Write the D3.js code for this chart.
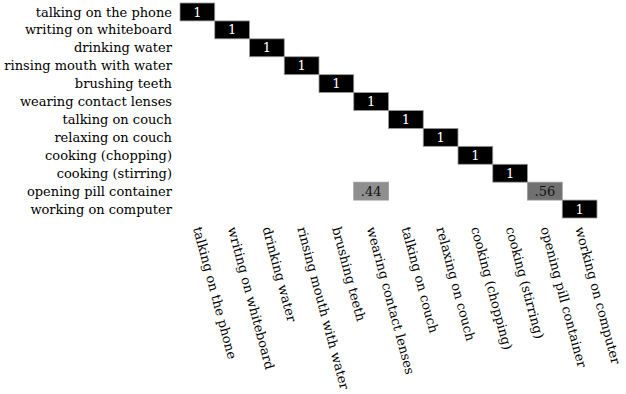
<!DOCTYPE html>
<html>
<head>
<meta charset="utf-8">
<script src="https://cdn.jsdelivr.net/npm/d3@7"></script>
<style>
  body { margin: 0; background: #fff; }
  text { font-family: "DejaVu Serif", "Liberation Serif", serif; }
</style>
</head>
<body>
<svg id="cm"></svg>
<script>
// activity names, same order for rows (true) and columns (predicted)
const labels = [
    "talking on the phone", "writing on whiteboard", "drinking water",
    "rinsing mouth with water", "brushing teeth", "wearing contact lenses",
    "talking on couch", "relaxing on couch", "cooking (chopping)",
    "cooking (stirring)", "opening pill container", "working on computer"
]

// confusion matrix, rows = actual, cols = predicted
const matrix = [
    [1, 0, 0, 0, 0, 0, 0, 0, 0, 0, 0, 0],
    [0, 1, 0, 0, 0, 0, 0, 0, 0, 0, 0, 0],
    [0, 0, 1, 0, 0, 0, 0, 0, 0, 0, 0, 0],
    [0, 0, 0, 1, 0, 0, 0, 0, 0, 0, 0, 0],
    [0, 0, 0, 0, 1, 0, 0, 0, 0, 0, 0, 0],
    [0, 0, 0, 0, 0, 1, 0, 0, 0, 0, 0, 0],
    [0, 0, 0, 0, 0, 0, 1, 0, 0, 0, 0, 0],
    [0, 0, 0, 0, 0, 0, 0, 1, 0, 0, 0, 0],
    [0, 0, 0, 0, 0, 0, 0, 0, 1, 0, 0, 0],
    [0, 0, 0, 0, 0, 0, 0, 0, 0, 1, 0, 0],
    [0, 0, 0, 0, 0, 0.44, 0, 0, 0, 0, 0.56, 0],
    [0, 0, 0, 0, 0, 0, 0, 0, 0, 0, 0, 1]
]

let svgWidth = 626, svgHeight = 394
let grid = {left: 180, right: 597, top: 3, bottom: 218}
let fontSize = 13

let svg = d3.select("#cm")
    .attr("width", svgWidth)
    .attr("height", svgHeight)

let xScale = d3.scaleBand().domain(d3.range(labels.length)).range([grid.left, grid.right])
let yScale = d3.scaleBand().domain(d3.range(labels.length)).range([grid.top, grid.bottom])
let shade = d3.scaleLinear().domain([0, 1]).range(["#ffffff", "#000000"])

// flatten to non-zero cells only
let cells = []
matrix.forEach((row, i) => row.forEach((v, j) => { if (v > 0) cells.push({i, j, v}) }))

let fmt = v => v === 1 ? "1" : d3.format(".2f")(v).replace(/^0/, "")

let cell = svg.selectAll("g.cell")
    .data(cells)
    .enter()
    .append("g")
    .attr("class", "cell")

cell.append("rect")
    .attr("x", d => xScale(d.j))
    .attr("y", d => yScale(d.i))
    .attr("width", xScale.bandwidth())
    .attr("height", yScale.bandwidth())
    .attr("fill", d => shade(d.v))
    .attr("stroke", "#9a9a9a")
    .attr("stroke-width", 0.8)

cell.append("text")
    .attr("x", d => xScale(d.j) + xScale.bandwidth() / 2)
    .attr("y", d => yScale(d.i) + yScale.bandwidth() / 2)
    .attr("dy", "0.35em")
    .attr("text-anchor", "middle")
    .attr("font-size", fontSize)
    .attr("fill", d => d.v > 0.7 ? "#fff" : "#111")
    .text(d => fmt(d.v))

// row labels
svg.selectAll("text.row")
    .data(labels)
    .enter()
    .append("text")
    .attr("class", "row")
    .attr("x", grid.left - 8)
    .attr("y", (d, i) => yScale(i) + yScale.bandwidth() / 2)
    .attr("dy", "0.35em")
    .attr("text-anchor", "end")
    .attr("font-size", fontSize)
    .text(d => d)

// column labels, tilted
let colTop = 227
svg.selectAll("text.col")
    .data(labels)
    .enter()
    .append("text")
    .attr("class", "col")
    .attr("transform", (d, i) => `translate(${xScale(i) + xScale.bandwidth() / 2}, ${colTop}) rotate(75)`)
    .attr("dy", "0.35em")
    .attr("text-anchor", "start")
    .attr("font-size", fontSize)
    .text(d => d)
</script>
</body>
</html>
